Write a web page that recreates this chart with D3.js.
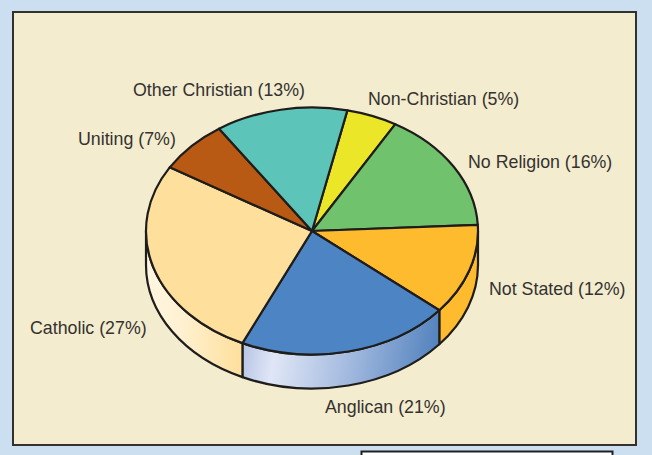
<!DOCTYPE html>
<html>
<head>
<meta charset="utf-8">
<script src="https://cdn.jsdelivr.net/npm/d3@7"></script>
<style>
  html, body { margin: 0; padding: 0; background: #cbdff1; overflow: hidden; }
  svg { display: block; }
  text { font-family: "Liberation Sans", Arial, sans-serif; font-size: 17.8px; fill: #343231; }
</style>
</head>
<body>
<svg id="chart" width="652" height="455"></svg>
<script>
// clockwise from the Non-Christian slice
const categories = ["Non-Christian", "No Religion", "Not Stated", "Anglican", "Catholic", "Uniting", "Other Christian"];
const values = [5, 16, 12, 21, 27, 7, 13];
const colors = ["#ece628", "#70c26c", "#fdbb2d", "#4c84c4", "#fedf9b", "#b85914", "#5dc4b9"];

// left edge and baseline of each label, same order as categories
const labelX = [368, 468, 489, 325, 30, 78, 133];
const labelY = [105, 168, 295, 413, 334, 145, 96];

const cx = 312, cy = 231, rx = 166, ry = 123.5, depth = 34;
const inkColor = "#1f1d1c";

const svg = d3.select("#chart");

// page furniture
svg.append("rect").attr("x", 13).attr("y", 12).attr("width", 623).attr("height", 433)
  .attr("fill", "#f3ecce").attr("stroke", "#33312f").attr("stroke-width", 2);
svg.append("rect").attr("x", 361.5).attr("y", 451.5).attr("width", 251).attr("height", 20)
  .attr("fill", "#ffffff").attr("stroke", "#231f20").attr("stroke-width", 2);

const defs = svg.append("defs");

const catholicGrad = defs.append("linearGradient").attr("id", "catholicSide")
  .attr("gradientUnits", "userSpaceOnUse").attr("x1", 146).attr("x2", 243).attr("y1", 0).attr("y2", 0);
catholicGrad.append("stop").attr("offset", "0%").attr("stop-color", "#fff6e2");
catholicGrad.append("stop").attr("offset", "35%").attr("stop-color", "#fff1d2");
catholicGrad.append("stop").attr("offset", "100%").attr("stop-color", "#fedf9b");

const anglicanGrad = defs.append("linearGradient").attr("id", "anglicanSide")
  .attr("gradientUnits", "userSpaceOnUse").attr("x1", 243).attr("y1", 335).attr("x2", 439).attr("y2", 365);
anglicanGrad.append("stop").attr("offset", "0%").attr("stop-color", "#b4c3e4");
anglicanGrad.append("stop").attr("offset", "17%").attr("stop-color", "#e0e6f6");
anglicanGrad.append("stop").attr("offset", "55%").attr("stop-color", "#a3badf");
anglicanGrad.append("stop").attr("offset", "100%").attr("stop-color", "#4f80bc");

const start = 12.3 * Math.PI / 180;
const pie = d3.pie().sort(null).startAngle(start).endAngle(start + 2 * Math.PI);
const slices = pie(values);

// pie angle (0 = up, clockwise) onto the tilted ellipse
const px = a => cx + rx * Math.sin(a);
const py = a => cy - ry * Math.cos(a);

function arcTo(a, b) {
  const large = Math.abs(b - a) > Math.PI ? 1 : 0;
  return `A${rx},${ry} 0 ${large} 1 ${px(b)},${py(b)}`;
}

function wedge(s) {
  return `M${cx},${cy}L${px(s.startAngle)},${py(s.startAngle)}${arcTo(s.startAngle, s.endAngle)}Z`;
}

// wall below the rim, only the part of a slice facing the viewer
function wall(s) {
  const a = Math.max(s.startAngle, Math.PI / 2);
  const b = Math.min(s.endAngle, 3 * Math.PI / 2);
  if (b <= a) return null;
  const back = `A${rx},${ry} 0 0 0 ${px(a)},${py(a) + depth}`;
  return `M${px(a)},${py(a)}${arcTo(a, b)}L${px(b)},${py(b) + depth}${back}Z`;
}

const wallFill = { "Not Stated": "#fdbb2d", "Anglican": "url(#anglicanSide)", "Catholic": "url(#catholicSide)" };

svg.append("g").selectAll("path")
  .data(slices.filter(s => wall(s)))
  .join("path")
  .attr("d", wall)
  .attr("fill", s => wallFill[categories[s.index]])
  .attr("stroke", inkColor).attr("stroke-width", 2.2).attr("stroke-linejoin", "round");

svg.append("g").selectAll("path")
  .data(slices)
  .join("path")
  .attr("d", wedge)
  .attr("fill", s => colors[s.index])
  .attr("stroke", inkColor).attr("stroke-width", 2.2).attr("stroke-linejoin", "round");

svg.append("g").selectAll("text")
  .data(categories)
  .join("text")
  .attr("x", (d, i) => labelX[i])
  .attr("y", (d, i) => labelY[i])
  .text((d, i) => `${d} (${values[i]}%)`);
</script>
</body>
</html>
